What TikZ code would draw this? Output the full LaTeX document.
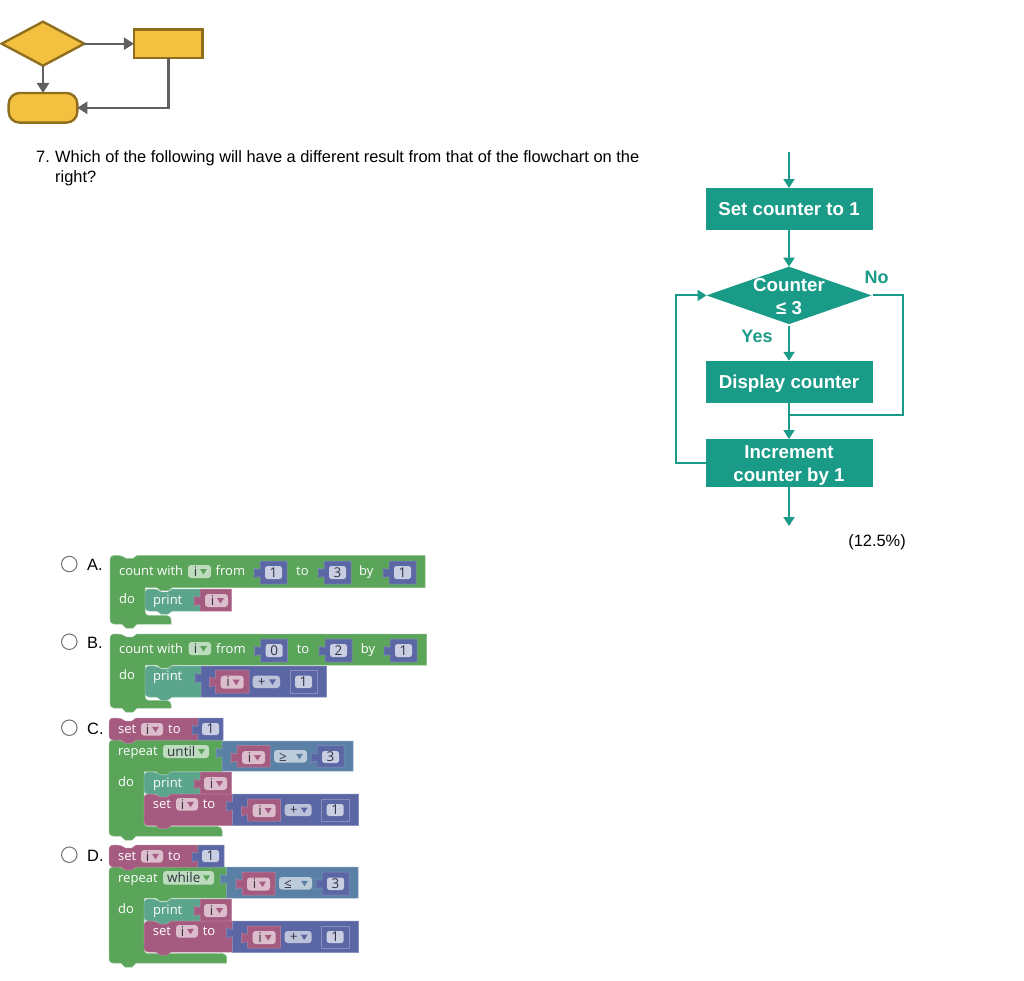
\documentclass[tikz,border=0pt]{standalone}
\usepackage{fontspec}
\setmainfont{Liberation Sans}
\newfontfamily\bkf{Open Sans}
\usetikzlibrary{shapes.geometric,arrows.meta}
\definecolor{flowteal}{HTML}{1A9B88}
\definecolor{ygold}{HTML}{F3C13F}
\definecolor{ybrown}{HTML}{8F6F1E}
\definecolor{agray}{HTML}{606060}
\definecolor{cgreen}{HTML}{5BA55B}
\definecolor{cblue}{HTML}{5B67A5}
\definecolor{cmag}{HTML}{A55B80}
\definecolor{cteal}{HTML}{5BA58C}
\definecolor{csteel}{HTML}{5B80A5}
\definecolor{bktext}{HTML}{333344}
\newcounter{tn}
\tikzset{
  ft/.style={fill=flowteal,draw=none,text=white,font=\fontsize{18.7}{23}\selectfont\bfseries,align=center,inner sep=0pt,outer sep=0pt},
  fa/.style={draw=flowteal,line width=2pt,-{Triangle[length=9pt,width=11pt]}},
  fl/.style={draw=flowteal,line width=2pt},
  yb/.style={fill=ygold,draw=ybrown,line width=2.4pt,inner sep=0pt,outer sep=0pt},
  ga/.style={draw=agray,line width=2.4pt,-{Triangle[length=10pt,width=12pt]}},
  qt/.style={font=\fontsize{16.4}{19}\selectfont,anchor=base west,inner sep=0pt,text=black},
  bt/.style={font=\fontsize{13}{15}\selectfont\bkf,text=white,anchor=west,inner sep=0pt,text height=12pt,text depth=3pt},
  ft2/.style={font=\fontsize{13.5}{15}\selectfont\bkf,text=bktext,inner sep=0pt,text height=9.5pt,text depth=0pt},
  radio/.style={circle,draw=black!55,fill=white,line width=1pt,minimum size=15.5pt,inner sep=0pt},
}
% text on a block
\newcommand\bktxt[3]{\stepcounter{tn}\node[bt] (t\arabic{tn}) at (#1,#2) {#3};}
% statement block: x1 y1 x2 y2 colour
\newcommand\stmt[5]{\fill[#5!100,draw=#5!75!white,line width=.5pt] (#1,#2+8) [rounded corners=4pt] -- (#1,#2) -- ({#1+12},#2) [sharp corners] -- ({#1+16},{#2+3}) -- ({#1+23},{#2+3}) -- ({#1+27},#2) -- (#3,#2) -- (#3,#4) -- ({#1+27},#4) -- ({#1+23},{#4+3}) -- ({#1+16},{#4+3}) -- ({#1+12},#4) [rounded corners=4pt] -- (#1,#4) -- (#1,#2+8) [sharp corners] -- cycle;}
% C block: L T R barB I armT armB armR colour
\newcommand\cblock[9]{\fill[#9,draw=#9!75!white,line width=.5pt] (#1,#2+8) [rounded corners=4pt] -- (#1,#2) -- ({#1+12},#2) [sharp corners] -- ({#1+16},{#2+3}) -- ({#1+23},{#2+3}) -- ({#1+27},#2) -- (#3,#2) -- (#3,#4) -- ({#5+27},#4) -- ({#5+23},{#4+3}) -- ({#5+16},{#4+3}) -- ({#5+12},#4) -- (#5,#4) [rounded corners=4pt] -- (#5,#6) -- (#8,#6) [sharp corners] -- (#8,#7) -- ({#1+27},#7) -- ({#1+23},{#7+4}) -- ({#1+16},{#7+4}) -- ({#1+12},#7) [rounded corners=4pt] -- (#1,#7) -- (#1,#2+8) [sharp corners] -- cycle;}
% value block with puzzle tab: x1 y1 x2 y2 colour
\newcommand\val[5]{\fill[#5,draw=#5!75!white,line width=.5pt] (#1,#2) -- (#3,#2) -- (#3,#4) -- (#1,#4) -- (#1,{#2+16}) .. controls ({#1-2},{#2+14}) and ({#1-3},{#2+17}) .. ({#1-6},{#2+17}) -- ({#1-6},{#2+7}) .. controls ({#1-3},{#2+7}) and ({#1-2},{#2+10}) .. (#1,{#2+8}) -- cycle;}
% number field: x1 y1 x2 y2 text
\newcommand\numf[5]{\stepcounter{tn}\fill[cblue!32!white,rounded corners=2.5pt] (#1,#2) rectangle (#3,#4);\node[ft2] (t\arabic{tn}) at ({(#1+#3)/2},{(#2+#4)/2}) {#5};}
% dropdown field: x1 y1 x2 y2 text colour
\newcommand\ddf[6]{\stepcounter{tn}\fill[#6!40!white,rounded corners=3pt] (#1,#2) rectangle (#3,#4);\node[ft2,anchor=west] (t\arabic{tn}) at ({#1+4},{(#2+#4)/2}) {#5};\fill[#6] ({#3-11},{(#2+#4)/2-2.5}) -- ({#3-4},{(#2+#4)/2-2.5}) -- ({#3-7.5},{(#2+#4)/2+3}) -- cycle;}
% same, with the short name centred over the left part
\newcommand\idf[5]{\stepcounter{tn}\fill[#5!40!white,rounded corners=3pt] (#1,#2) rectangle (#3,#4);\node[ft2] (t\arabic{tn}) at ({#3-15.5},{(#2+#4)/2}) {i};\fill[#5] ({#3-11},{(#2+#4)/2-2.5}) -- ({#3-4},{(#2+#4)/2-2.5}) -- ({#3-7.5},{(#2+#4)/2+3}) -- cycle;}
% number value block: x1 y1 text
\newcommand\numv[3]{\val{#1}{#2}{#1+27}{#2+23}{cblue}\numf{#1+5}{#2+5}{#1+22}{#2+18}{#3}}
\newcommand\ifield[3]{\idf{#1}{#2}{#1+23}{#2+13}{#3}}
% symbol operator dropdown: x1 y1 x2 y2 text colour
\newcommand\opf[6]{\stepcounter{tn}\fill[#6!40!white,rounded corners=3pt] (#1,#2) rectangle (#3,#4);\node[ft2] (t\arabic{tn}) at ({#1+9},{(#2+#4)/2}) {#5};\fill[#6] ({#3-11},{(#2+#4)/2-2.5}) -- ({#3-4},{(#2+#4)/2-2.5}) -- ({#3-7.5},{(#2+#4)/2+3}) -- cycle;}
% i+1 expression, top-left x1 y1
\newcommand\iplus[3]{\val{#1}{#2}{#1+126}{#2+31.5}{cblue}
 \val{#1+15}{#2+5}{#1+48}{#2+27}{cmag}\ifield{#1+20}{#2+10}{cmag}
 \opf{#1+52}{#2+10}{#1+79}{#2+22}{+}{cblue}
 \draw[cblue!75!white,line width=.5pt] (#1+89,#2+5) rectangle (#1+117,#2+27);
 \numf{#1+94}{#2+10}{#1+111}{#2+22}{#3}}
\begin{document}
\begin{tikzpicture}[x=1pt,y=-1pt]
\useasboundingbox (0,0) rectangle (1024,980);
\fill[white] (0,0) rectangle (1024,980);
% --- small legend flowchart
\node[yb,diamond,aspect=1.9,minimum width=82.6pt,minimum height=44pt] (yd) at (43,43.7) {};
\node[yb,rectangle,minimum width=68.7pt,minimum height=28.6pt] (yr) at (168.3,43.7) {};
\node[yb,rectangle,rounded corners=11pt,minimum width=68.7pt,minimum height=29.7pt] (yo) at (43,107.8) {};
\coordinate (ybend) at (168.3,107.8);
\draw[ga] (yd.east) -- (yr.west);
\draw[ga] (yd.south) -- (yo.north);
\draw[ga] (yr.south) -- (ybend) -- (yo.east);
% --- question
\node[qt] (qn) at (36,162.5) {7.};
\node[qt] (q1) at (55,162.5) {Which of the following will have a different result from that of the flowchart on the};
\node[qt] (q2) at (55,182.5) {right?};
% --- main flowchart
\coordinate (fstart) at (789,152);
\node[ft,minimum width=167pt,minimum height=42pt] (fset) at (789,209) {Set counter to 1};
\node[ft,diamond,aspect=2.9,minimum width=165pt,minimum height=57.4pt] (fdec) at (789,295.4) {};
\node[text=white,font=\fontsize{18.7}{23}\selectfont\bfseries,align=center,inner sep=0pt] (fdect) at (789,296.5) {Counter\\≤ 3};
\node[ft,minimum width=167pt,minimum height=42.4pt,text depth=0pt] (fdis) at (789,382) {Display counter};
\node[ft,minimum width=167pt,minimum height=48pt] (finc) at (789,463) {\rule{0pt}{18pt}Increment\\counter by 1};
\coordinate (fend) at (789,526);
\coordinate (fjoin) at (789,415);
\coordinate (fright) at (903,415);
\coordinate (fleft) at (675.7,463);
\draw[fa] (fstart) -- (fset);
\draw[fa] (fset) -- (fdec);
\draw[fa,shorten <=2pt] (fdec.south) -- (fdis);
\draw[fa] (fdis) -- (finc);
\draw[fa] (finc) -- (fend);
\draw[fl,shorten <=1.5pt] (fdec.east) -| (fright) -- (fjoin);
\draw[fa] (finc.west) -- (fleft) |- (fdec.west);
\node[font=\fontsize{18}{20}\selectfont\bfseries,text=flowteal,inner sep=0pt] (fno) at (876.5,277) {No};
\node[font=\fontsize{18}{20}\selectfont\bfseries,text=flowteal,inner sep=0pt] (fyes) at (757,336) {Yes};
\node[font=\fontsize{16.4}{19}\selectfont,inner sep=0pt] (fpct) at (877,542) {(12.5\%)};
% --- options
\node[radio] (ra) at (69.3,564) {};
\node[radio] (rb) at (69.3,641.7) {};
\node[radio] (rc) at (69.3,727.7) {};
\node[radio] (rd) at (69.3,854.7) {};
\node[qt] (la) at (87,570) {A.};
\node[qt] (lb) at (87,648) {B.};
\node[qt] (lc) at (87,734) {C.};
\node[qt] (ld) at (87,861) {D.};
% --- Block A
\cblock{110}{555.5}{425}{587.7}{145}{615.7}{624}{171}{cgreen}
\stmt{145}{589}{200}{611}{cteal}
\val{200}{589}{231.7}{611}{cmag}
\ifield{205}{594}{cmag}
\bktxt{119}{571}{count with}
\idf{188}{565}{211}{578}{cgreen}
\bktxt{215.5}{571}{from}
\numv{260}{561}{1}
\bktxt{296}{571}{to}
\numv{324}{561}{3}
\bktxt{359}{571}{by}
\numv{389}{561}{1}
\bktxt{119}{599}{do}
\bktxt{153}{600}{print}
% --- Block B
\cblock{110}{634}{426.7}{665}{145}{700.7}{708}{171}{cgreen}
\stmt{145}{666}{201}{697}{cteal}
\val{201}{666}{326.7}{697}{cblue}
\val{215.7}{670}{249}{693}{cmag}
\ifield{220.7}{675.7}{cmag}
\opf{252.7}{675.7}{280}{688}{+}{cblue}
\draw[cblue!75!white,line width=.5pt] (290,670) rectangle (317.7,693);
\numf{295}{675.7}{312}{688}{1}
\bktxt{119}{648.5}{count with}
\idf{188.5}{642}{211}{655}{cgreen}
\bktxt{216}{648.5}{from}
\numv{260.7}{639}{0}
\bktxt{296.7}{648.5}{to}
\numv{325}{639}{2}
\bktxt{360.7}{648.5}{by}
\numv{390}{639}{1}
\bktxt{119}{675}{do}
\bktxt{153}{676}{print}
% --- Block C
\cblock{109}{740}{222}{771.7}{144}{826.7}{836}{222}{cgreen}
\stmt{109}{718}{198}{740}{cmag}
\val{198}{718}{223}{740}{cblue}
\numf{202}{723}{219}{735}{1}
\bktxt{118}{729}{set}
\idf{141}{723}{163}{735.5}{cmag}
\bktxt{168}{729}{to}
\bktxt{118}{751}{repeat}
\ddf{163}{745}{209}{758}{until}{cgreen}
\val{222}{741}{353}{771}{csteel}
\val{237}{745.7}{270}{767}{cmag}
\ifield{242}{751}{cmag}
\opf{274}{750}{307}{762.5}{≥}{csteel}
\val{317}{745.7}{344}{767}{cblue}
\numf{322}{751}{339}{763}{3}
\bktxt{118}{782}{do}
\stmt{144}{772}{200}{794}{cteal}
\val{200}{772}{231.7}{794}{cmag}
\ifield{204}{777}{cmag}
\bktxt{153}{782.5}{print}
\stmt{144}{794}{232.7}{825.7}{cmag}
\bktxt{152.7}{804}{set}
\idf{176}{798}{198}{810.5}{cmag}
\bktxt{202.7}{804}{to}
\iplus{232.7}{794}{1}
% --- Block D
\cblock{109}{867}{226.7}{898}{144}{953.7}{963}{226.7}{cgreen}
\stmt{109}{845}{198}{867}{cmag}
\val{198}{845}{224}{867}{cblue}
\numf{202}{850}{219}{862}{1}
\bktxt{118}{856}{set}
\idf{141}{850}{163}{862.5}{cmag}
\bktxt{168}{856}{to}
\bktxt{118}{878}{repeat}
\ddf{163}{871}{214}{884.7}{while}{cgreen}
\val{226.7}{867}{358}{898}{csteel}
\val{242}{872}{275}{895}{cmag}
\ifield{247}{877.5}{cmag}
\opf{279}{877}{312}{889.5}{≤}{csteel}
\val{322}{872}{349}{895}{cblue}
\numf{327}{877.5}{344}{890}{3}
\bktxt{118}{909}{do}
\stmt{144}{899}{200}{921}{cteal}
\val{200}{899}{231.7}{921}{cmag}
\ifield{204}{904}{cmag}
\bktxt{153}{909.5}{print}
\stmt{144}{921}{232.7}{952}{cmag}
\bktxt{152.7}{931}{set}
\idf{176}{925}{198}{937.5}{cmag}
\bktxt{202.7}{931}{to}
\iplus{232.7}{921}{1}
\end{tikzpicture}
\end{document}
